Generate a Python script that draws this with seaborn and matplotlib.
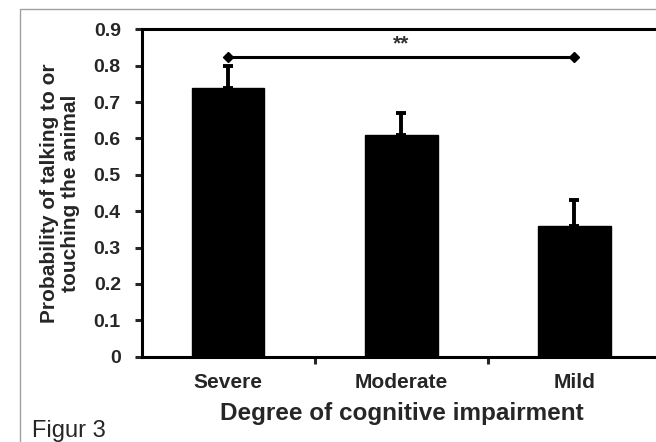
import numpy as np
import pandas as pd
import matplotlib.pyplot as plt
import seaborn as sns
from matplotlib.patches import Rectangle

sns.set_style('ticks')
plt.rcParams['font.family'] = ['Liberation Sans', 'DejaVu Sans']

# Data
groups = ['Severe', 'Moderate', 'Mild']
prob = [0.74, 0.61, 0.36]
sem = [0.06, 0.06, 0.07]
sig_y = 0.825
sig_label = '**'

df = pd.DataFrame({'group': groups, 'prob': prob, 'sem': sem})

fig = plt.figure(figsize=(6.56, 4.42), dpi=100)
ax = fig.add_axes([0.216, 0.193, 0.7916, 0.7407])

sns.barplot(data=df, x='group', y='prob', color='black', width=0.418,
            errorbar=None, ax=ax, saturation=1)
for p in ax.patches:
    p.set_edgecolor('black')

x = np.arange(len(groups))
ax.errorbar(x, df['prob'], yerr=[np.zeros(len(sem)), df['sem']], fmt='none',
            ecolor='black', elinewidth=2.8, capsize=3.5, capthick=2.8)

# significance bracket Severe vs Mild
ax.plot([x[0], x[2]], [sig_y, sig_y], color='black', lw=2.2,
        marker='D', markersize=5, clip_on=False)
ax.text((x[0] + x[2]) / 2, sig_y + 0.008, sig_label, ha='center', va='bottom',
        fontsize=15, fontweight='bold', color='#333333')

ax.set_xlim(-0.5, 2.5)
ax.set_ylim(0, 0.9)
ax.set_yticks(np.arange(0, 0.91, 0.1))
ax.set_yticklabels(['0'] + ['%.1f' % v for v in np.arange(0.1, 0.91, 0.1)])
ax.set_xticks([0.5, 1.5], minor=True)
ax.tick_params(axis='x', which='major', length=0, pad=12, labelsize=15)
ax.tick_params(axis='x', which='minor', length=5, width=2.2, direction='out')
ax.tick_params(axis='y', length=5, width=2.2, pad=10, labelsize=14)
for lbl in ax.get_xticklabels() + ax.get_yticklabels():
    lbl.set_fontweight('bold')

for s in ax.spines.values():
    s.set_linewidth(2.2)
    s.set_color('black')

ax.set_xlabel('Degree of cognitive impairment', fontsize=17.5, fontweight='bold',
              labelpad=7)
ax.set_ylabel('Probability of talking to or\ntouching the animal', fontsize=15,
              fontweight='bold', labelpad=10, linespacing=1.1)

# outer frame and caption
fig.add_artist(Rectangle((20 / 656, -0.1), 1.2, 1.1 - 9 / 442, transform=fig.transFigure,
                         fill=False, edgecolor='#a0a0a0', lw=1))
fig.text(32 / 656, 1 - 437 / 442, 'Figur 3', fontsize=17, ha='left', va='baseline')

fig.savefig('out.png', dpi=100)
